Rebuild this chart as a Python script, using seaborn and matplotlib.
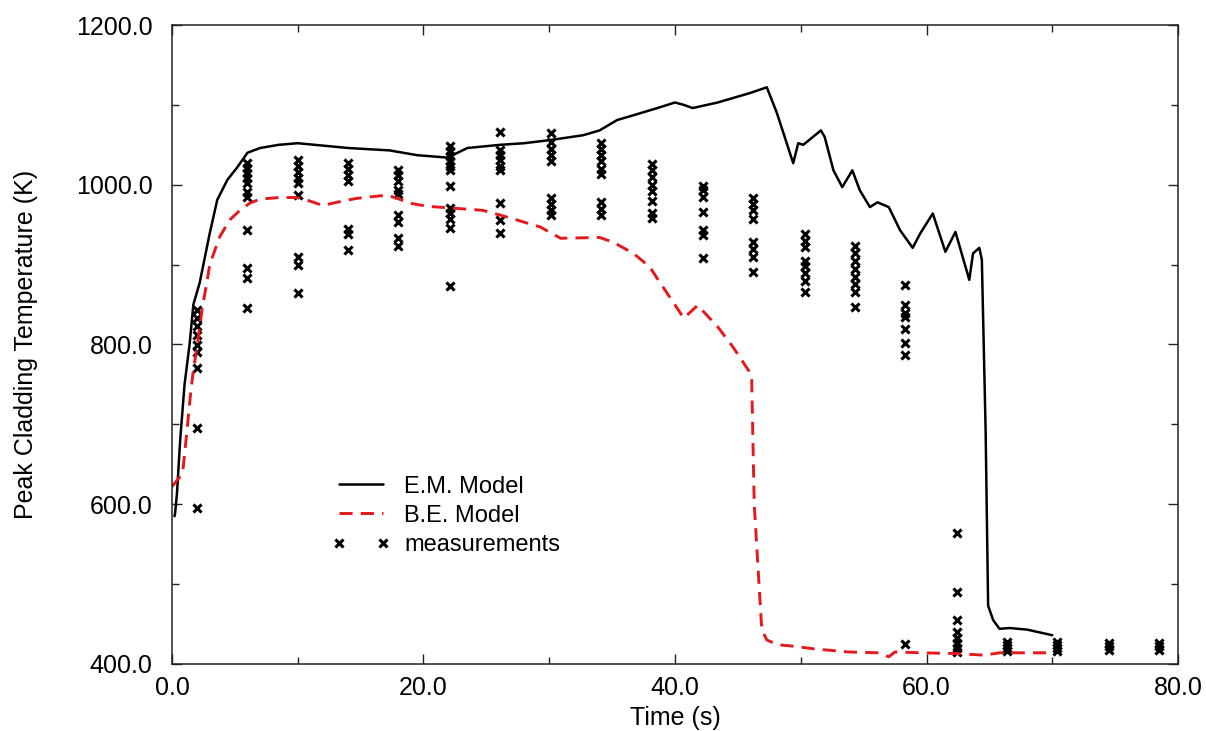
import numpy as np
import pandas as pd
import matplotlib
matplotlib.use("Agg")
import matplotlib.pyplot as plt
from matplotlib.lines import Line2D
from matplotlib.ticker import MultipleLocator, FormatStrFormatter
import seaborn as sns

# E.M. model (black solid)
em_time = [0.2, 0.25, 0.4, 0.65, 1.0, 1.4, 1.7, 2.2, 3.0, 3.6, 4.4, 5.2, 6.0, 7.0, 8.5,
           10.0, 12.0, 14.0, 17.3, 19.5, 21.9, 23.5, 26.1, 28.0, 30.1, 32.7, 34.0, 35.4,
           36.7, 38.8, 40.0, 40.7, 41.4, 43.4, 46.0, 47.3, 48.1, 49.4, 49.8, 50.2, 51.6,
           51.9, 52.6, 53.3, 54.1, 54.7, 55.5, 56.1, 57.0, 57.9, 58.9, 59.5, 60.5, 61.5,
           62.3, 63.4, 63.7, 64.2, 64.4, 64.7, 64.9, 65.3, 65.8, 66.6, 68.0, 70.0]
em_temp = [585, 589, 614, 680, 750, 800, 850, 877, 939, 981, 1006, 1022, 1040, 1046, 1050,
           1052, 1049, 1046, 1043, 1037, 1034, 1046, 1050, 1052, 1056, 1062, 1068, 1081,
           1087, 1097, 1103, 1100, 1096, 1103, 1115, 1122, 1090, 1027, 1052, 1050, 1068,
           1060, 1018, 997, 1018, 993, 972, 978, 972, 943, 921, 939, 964, 916,
           941, 881, 914, 921, 906, 693, 473, 455, 444, 445, 443, 436]

# B.E. model (red dashed)
be_time = [0.0, 0.4, 0.8, 0.9, 1.2, 1.45, 1.7, 2.0, 2.4, 2.8, 3.0, 3.8, 4.6, 5.4, 6.2,
           7.0, 8.5, 9.9, 10.7, 12.0, 13.1, 14.7, 17.1, 17.9, 18.9, 20.3, 22.1, 24.7,
           26.1, 27.4, 29.3, 30.9, 34.0, 35.1, 36.7, 38.0, 38.7, 40.7, 41.8, 43.4, 44.6,
           46.0, 46.1, 46.3, 46.9, 47.3, 48.2, 49.6, 51.0, 53.8, 56.1, 57.0, 57.5, 59.5,
           62.4, 64.6, 65.8, 70.0]
be_temp = [622, 630, 637, 647, 693, 734, 768, 797, 845, 880, 900, 935, 956, 968, 977,
           982, 984, 984, 981, 974, 978, 983, 987, 983, 977, 973, 971, 968,
           962, 956, 947, 933, 934, 928, 914, 897, 880, 833, 849, 822, 797,
           764, 755, 600, 443, 430, 424, 422, 419, 415, 414, 409, 415, 414,
           413, 411, 414, 414]

# measurements, one column of thermocouples per time
meas_time = [2.0, 6.0, 10.0, 14.0, 18.0, 22.1, 26.1, 30.1, 34.1, 38.2,
             42.2, 46.2, 50.3, 54.3, 58.3, 62.4, 66.4, 70.4, 74.5, 78.5]
meas_temp = [
    [843, 833, 823, 812, 799, 790, 770, 695, 595],
    [1027, 1021, 1015, 1008, 1002, 991, 985, 943, 896, 883, 846],
    [1031, 1023, 1016, 1008, 1002, 987, 909, 899, 864],
    [1027, 1020, 1012, 1005, 945, 938, 918],
    [1018, 1012, 1005, 993, 988, 962, 953, 933, 923],
    [1048, 1042, 1036, 1030, 1024, 1018, 999, 971, 964, 957, 946, 873],
    [1066, 1043, 1037, 1031, 1024, 1018, 977, 956, 939],
    [1065, 1053, 1045, 1037, 1030, 983, 976, 968, 962],
    [1052, 1045, 1037, 1030, 1020, 1013, 978, 970, 962],
    [1026, 1018, 1010, 1000, 992, 980, 965, 958],
    [999, 993, 985, 966, 943, 937, 908],
    [983, 976, 968, 957, 928, 920, 909, 891],
    [938, 930, 922, 905, 898, 890, 880, 866],
    [923, 915, 905, 895, 885, 876, 866, 847],
    [874, 849, 840, 834, 820, 802, 787, 425],
    [564, 490, 455, 440, 432, 426, 420, 415],
    [428, 424, 420, 416],
    [428, 424, 420, 416],
    [426, 422, 418],
    [426, 422, 418],
]

RED = "#e5181c"


def plot_pct():
    em = pd.DataFrame({"t": em_time, "T": em_temp})
    be = pd.DataFrame({"t": be_time, "T": be_temp})
    meas = pd.DataFrame(
        [(t, v) for t, col in zip(meas_time, meas_temp) for v in col],
        columns=["t", "T"],
    )

    sns.set_theme(style="ticks")
    plt.rcParams["font.family"] = ["Liberation Sans", "DejaVu Sans"]
    plt.rcParams["text.color"] = "black"
    plt.rcParams["axes.labelcolor"] = "black"

    fig = plt.figure(figsize=(12.06, 7.31), dpi=100)
    ax = fig.add_axes([0.1426, 0.0917, 0.8342, 0.8741])

    sns.lineplot(data=em, x="t", y="T", sort=False, estimator=None,
                 color="black", linewidth=1.8, ax=ax)
    sns.lineplot(data=be, x="t", y="T", sort=False, estimator=None,
                 color=RED, linewidth=2.1, dashes=False, ax=ax)
    ax.lines[-1].set_dashes((4.5, 2.8))
    sns.scatterplot(data=meas, x="t", y="T", marker="x", color="black",
                    s=34, linewidth=2.2, ax=ax)

    ax.set_xlim(0, 80)
    ax.set_ylim(400, 1200)
    ax.xaxis.set_major_locator(MultipleLocator(20))
    ax.xaxis.set_minor_locator(MultipleLocator(10))
    ax.yaxis.set_major_locator(MultipleLocator(200))
    ax.yaxis.set_minor_locator(MultipleLocator(100))
    ax.xaxis.set_major_formatter(FormatStrFormatter("%.1f"))
    ax.yaxis.set_major_formatter(FormatStrFormatter("%.1f"))
    ax.tick_params(which="both", direction="in", top=True, right=True,
                   width=1.0, colors="#222222", labelcolor="black")
    ax.tick_params(which="major", length=7, labelsize=18)
    ax.tick_params(which="minor", length=5)
    ax.tick_params(axis="x", pad=9)
    ax.tick_params(axis="y", pad=14)
    for sp in ax.spines.values():
        sp.set_linewidth(1.1)
        sp.set_color("#222222")

    ax.set_xlabel("Time (s)", fontsize=18, labelpad=4)
    ax.set_ylabel("Peak Cladding Temperature (K)", fontsize=18, labelpad=27)

    handles = [
        Line2D([], [], color="black", linewidth=1.8),
        Line2D([], [], color=RED, linewidth=2.1, dashes=(4.5, 2.8)),
        Line2D([], [], color="black", linestyle="none", marker="x",
               markersize=6, markeredgewidth=2.2),
    ]
    ax.legend(handles, ["E.M. Model", "B.E. Model", "measurements"],
              loc="center left", bbox_to_anchor=(0.159, 0.232),
              frameon=False, numpoints=2, fontsize=17,
              handlelength=2.45, handletextpad=0.6, labelspacing=0.3,
              borderpad=0, borderaxespad=0)

    fig.savefig("out.png", dpi=100)


if __name__ == "__main__":
    plot_pct()
